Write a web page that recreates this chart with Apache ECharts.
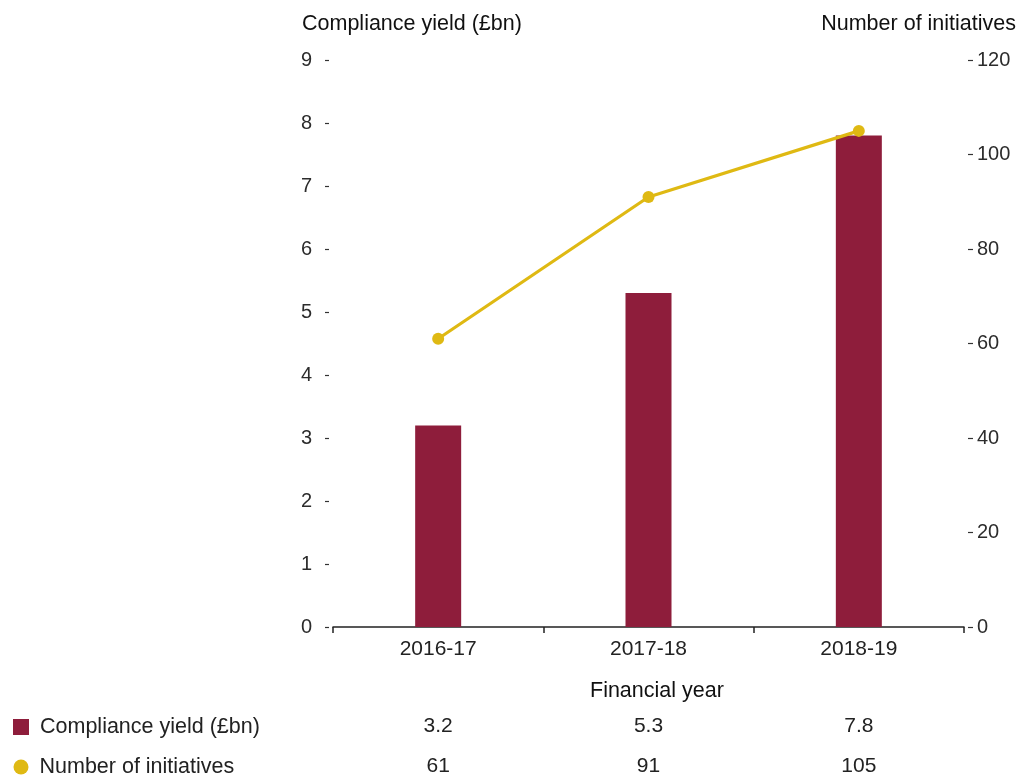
<!DOCTYPE html>
<html>
<head>
<meta charset="utf-8">
<script src="https://cdn.jsdelivr.net/npm/echarts@6/dist/echarts.min.js"></script>
<style>
  html, body { margin: 0; padding: 0; background: #fff; }
  #chart { width: 1029px; height: 778px; }
</style>
</head>
<body>
<div id="chart"></div>
<script>
// Financial years on the category axis
const years = ['2016-17', '2017-18', '2018-19'];
// Compliance yield, £bn (bars, left axis)
const complianceYield = [3.2, 5.3, 7.8];
// Number of initiatives (line, right axis)
const initiatives = [61, 91, 105];
// Series names, shown in the legend rows
const seriesNames = ['Compliance yield (£bn)', 'Number of initiatives'];

const FONT = '"Liberation Sans", Arial, Helvetica, sans-serif';
const BAR_COLOR = '#8E1D3B';
const LINE_COLOR = '#DFB913';
const TEXT = '#222';
const TICK_TEXT = '#2c2c2c';

const chart = echarts.init(document.getElementById('chart'), null, { renderer: 'canvas' });

// Hidden category axis used to place a row of values under each year
function valueRow(values, offset) {
  return {
    type: 'category',
    data: years,
    position: 'bottom',
    offset: offset,
    gridIndex: 0,
    axisLine: { show: false },
    axisTick: { show: false },
    axisLabel: {
      margin: 0,
      fontFamily: FONT,
      fontSize: 21,
      color: TEXT,
      formatter: (v, i) => String(values[i])
    }
  };
}

// One legend block per row of the value table
function legendRow(name, icon, size, left, top) {
  return {
    left: left,
    top: top,
    itemWidth: size,
    itemHeight: size,
    itemGap: 0,
    selectedMode: false,
    textStyle: { fontFamily: FONT, fontSize: 21.5, color: TEXT, padding: [0, 0, 0, 6] },
    data: [{ name: name, icon: icon }]
  };
}

const titleStyle = { fontFamily: FONT, fontSize: 21.5, fontWeight: 'normal', color: '#111' };

chart.setOption({
  animation: false,
  textStyle: { fontFamily: FONT },
  title: [
    { text: 'Compliance yield (£bn)', left: 297, top: 8, textStyle: titleStyle },
    { text: 'Number of initiatives', right: 8, top: 8, textStyle: titleStyle },
    { text: 'Financial year', left: 585, top: 675, textStyle: titleStyle }
  ],
  legend: [
    legendRow(seriesNames[0], 'rect', 16, 8, 711),
    legendRow(seriesNames[1], 'circle', 15, 8.5, 751)
  ],
  grid: { left: 333, right: 65, top: 60, bottom: 151, containLabel: false },
  xAxis: [
    {
      type: 'category',
      data: years,
      boundaryGap: true,
      axisLine: { lineStyle: { color: '#222', width: 1.5 } },
      axisTick: { show: true, length: 6, lineStyle: { color: '#222', width: 1.5 } },
      axisLabel: { margin: 12, fontFamily: FONT, fontSize: 21, color: TEXT }
    },
    valueRow(complianceYield, 89),
    valueRow(initiatives, 129)
  ],
  yAxis: [
    {
      type: 'value',
      min: 0, max: 9, interval: 1,
      offset: 4,
      axisLine: { show: false },
      axisTick: { show: true, length: 4, lineStyle: { color: '#333', width: 1.2 } },
      splitLine: { show: false },
      axisLabel: { margin: 17, fontFamily: FONT, fontSize: 20, color: TICK_TEXT }
    },
    {
      type: 'value',
      position: 'right',
      min: 0, max: 120, interval: 20,
      offset: 4,
      axisLine: { show: false },
      axisTick: { show: true, length: 5, lineStyle: { color: '#333', width: 1.2 } },
      splitLine: { show: false },
      axisLabel: { margin: 9, fontFamily: FONT, fontSize: 20, color: TICK_TEXT }
    }
  ],
  series: [
    {
      name: seriesNames[0],
      type: 'bar',
      xAxisIndex: 0,
      yAxisIndex: 0,
      data: complianceYield,
      barWidth: 46,
      itemStyle: { color: BAR_COLOR },
      z: 2
    },
    {
      name: seriesNames[1],
      type: 'line',
      xAxisIndex: 0,
      yAxisIndex: 1,
      data: initiatives,
      symbol: 'circle',
      symbolSize: 12,
      lineStyle: { color: LINE_COLOR, width: 3.2 },
      itemStyle: { color: LINE_COLOR },
      z: 3
    }
  ]
});
</script>
</body>
</html>
